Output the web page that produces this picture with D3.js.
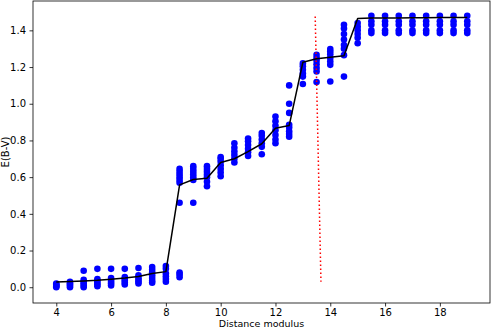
<!DOCTYPE html>
<html>
<head>
<meta charset="utf-8">
<script src="https://cdn.jsdelivr.net/npm/d3@7"></script>
<style>
  body { margin: 0; background: #fff; }
  svg text { font-family: "DejaVu Sans", sans-serif; }
</style>
</head>
<body>
<div id="chart"></div>
<script>
// distance modulus columns and E(B-V) samples
const distances = [4, 4.5, 5, 5.5, 6, 6.5, 7, 7.5, 8, 8.5, 9, 9.5, 10, 10.5, 11, 11.5,
                   12, 12.5, 13, 13.5, 14, 14.5, 15, 15.5, 16, 16.5, 17, 17.5, 18, 18.5, 19];

const samples = [
    [0.0, 0.005, 0.01, 0.015, 0.02],
    [0.0, 0.008, 0.015, 0.022, 0.03],
    [0.0, 0.01, 0.02, 0.03, 0.04, 0.09],
    [0.005, 0.015, 0.025, 0.035, 0.045, 0.10],
    [0.01, 0.02, 0.03, 0.04, 0.05, 0.10],
    [0.015, 0.025, 0.035, 0.045, 0.055, 0.10],
    [0.02, 0.03, 0.04, 0.05, 0.065, 0.105],
    [0.025, 0.035, 0.05, 0.065, 0.08, 0.095, 0.11],
    [0.03, 0.045, 0.06, 0.075, 0.10, 0.115],
    [0.055, 0.07, 0.08, 0.46, 0.57, 0.585, 0.6, 0.615, 0.63, 0.645],
    [0.46, 0.585, 0.6, 0.615, 0.63, 0.645, 0.66],
    [0.55, 0.575, 0.6, 0.615, 0.63, 0.645, 0.66],
    [0.605, 0.625, 0.645, 0.665, 0.685, 0.70, 0.71],
    [0.68, 0.70, 0.72, 0.74, 0.76, 0.785],
    [0.715, 0.735, 0.755, 0.775, 0.795, 0.81],
    [0.725, 0.765, 0.785, 0.805, 0.825, 0.84],
    [0.785, 0.805, 0.83, 0.855, 0.88, 0.905, 0.93],
    [0.82, 0.835, 0.85, 0.87, 0.885, 0.95, 1.0, 1.1],
    [1.108, 1.148, 1.165, 1.185, 1.205, 1.22],
    [1.118, 1.176, 1.195, 1.215, 1.235, 1.25, 1.267],
    [1.121, 1.212, 1.23, 1.25, 1.27, 1.285, 1.298],
    [1.148, 1.265, 1.30, 1.32, 1.35, 1.38, 1.41, 1.43],
    [1.33, 1.36, 1.38, 1.40, 1.42, 1.44],
    [1.385, 1.40, 1.43, 1.45, 1.48],
    [1.385, 1.40, 1.43, 1.45, 1.48],
    [1.385, 1.40, 1.43, 1.45, 1.48],
    [1.385, 1.40, 1.43, 1.45, 1.48],
    [1.385, 1.40, 1.43, 1.45, 1.48],
    [1.385, 1.40, 1.43, 1.45, 1.48],
    [1.385, 1.40, 1.43, 1.45, 1.48],
    [1.385, 1.40, 1.43, 1.45, 1.48]
];

// black curve through the columns
const curve = [0.028, 0.031, 0.034, 0.038, 0.044, 0.05, 0.058, 0.075, 0.085,
               0.558, 0.587, 0.594, 0.68, 0.70, 0.739, 0.782, 0.867, 0.881,
               1.226, 1.245, 1.253, 1.261, 1.465, 1.467, 1.468, 1.468, 1.469,
               1.469, 1.47, 1.47, 1.47];

// red dotted marker line (two end points)
const markerX = [13.45, 13.66];
const markerY = [1.475, 0.03];

const xTicks = [4, 6, 8, 10, 12, 14, 16, 18];
const yTicks = [0.0, 0.2, 0.4, 0.6, 0.8, 1.0, 1.2, 1.4];

const width = 491;
const height = 329;
const margin = { top: 1, right: 1, bottom: 26, left: 33 };

const svg = d3.select("#chart").append("svg")
    .attr("width", width)
    .attr("height", height);

const x = d3.scaleLinear()
    .domain([3.15, 19.83])
    .range([margin.left, width - margin.right]);

const y = d3.scaleLinear()
    .domain([-0.086, 1.56])
    .range([height - margin.bottom, margin.top]);

const points = [];
distances.forEach((d, i) => samples[i].forEach(v => points.push({ x: d, y: v })));

// scatter
svg.append("g")
    .selectAll("circle")
    .data(points)
    .join("circle")
    .attr("cx", d => x(d.x))
    .attr("cy", d => y(d.y))
    .attr("r", 3.3)
    .attr("fill", "#0000ff");

// black curve
const line = d3.line()
    .x((d, i) => x(distances[i]))
    .y(d => y(d));

svg.append("path")
    .datum(curve)
    .attr("fill", "none")
    .attr("stroke", "black")
    .attr("stroke-width", 1.5)
    .attr("stroke-linejoin", "round")
    .attr("d", line);

// red dotted line
svg.append("path")
    .datum(markerX.map((v, i) => [v, markerY[i]]))
    .attr("fill", "none")
    .attr("stroke", "red")
    .attr("stroke-width", 1.5)
    .attr("stroke-dasharray", "1.5,2.5")
    .attr("d", d3.line().x(d => x(d[0])).y(d => y(d[1])));

// axes
const xAxis = svg.append("g")
    .attr("transform", `translate(0, ${height - margin.bottom})`)
    .call(d3.axisBottom(x).tickValues(xTicks).tickFormat(d3.format("d")).tickSizeOuter(0).tickSize(3.5).tickPadding(2));

const yAxis = svg.append("g")
    .attr("transform", `translate(${margin.left}, 0)`)
    .call(d3.axisLeft(y).tickValues(yTicks).tickFormat(d3.format(".1f")).tickSizeOuter(0).tickSize(3.5).tickPadding(3.5));

[xAxis, yAxis].forEach(g => {
    g.select(".domain").remove();
    g.selectAll("line").attr("stroke", "black").attr("stroke-width", 0.8);
    g.selectAll("text").attr("fill", "black").style("font-size", "10px");
});

// frame
svg.append("rect")
    .attr("x", margin.left)
    .attr("y", margin.top)
    .attr("width", width - margin.left - margin.right)
    .attr("height", height - margin.top - margin.bottom)
    .attr("fill", "none")
    .attr("stroke", "black")
    .attr("stroke-width", 0.8);

// axis labels
svg.append("text")
    .attr("x", (margin.left + width - margin.right) / 2)
    .attr("y", 326.7)
    .attr("text-anchor", "middle")
    .style("font-size", "9.5px")
    .text("Distance modulus");

svg.append("text")
    .attr("transform", `translate(9, ${(margin.top + height - margin.bottom) / 2}) rotate(-90)`)
    .attr("text-anchor", "middle")
    .style("font-size", "10px")
    .text("E(B-V)");
</script>
</body>
</html>
